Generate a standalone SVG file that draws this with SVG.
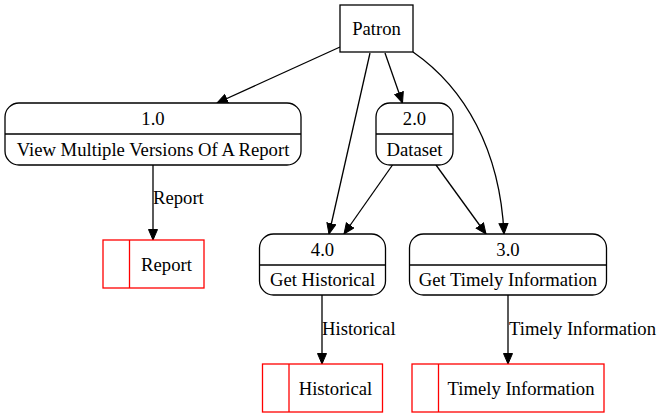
<svg xmlns="http://www.w3.org/2000/svg" width="657" height="419" viewBox="0 0 657 419">
<defs>
<marker id="arr" markerUnits="userSpaceOnUse" markerWidth="13" markerHeight="11" refX="11" refY="5" orient="auto">
<path d="M0.5,0.5 L11,5 L0.5,9.5 z" fill="#000" stroke="#000" stroke-width="1"/>
</marker>
</defs>
<style>
text{font-family:"Liberation Serif","Times New Roman",serif;font-size:18.67px;fill:#000}
.c{text-anchor:middle}
.n{fill:#fff;stroke:#000;stroke-width:1.3}
.s{fill:#fff;stroke:#f00;stroke-width:1.3}
.e{fill:none;stroke:#000;stroke-width:1.3;marker-end:url(#arr)}
</style>
<rect width="657" height="419" fill="#fff"/>
<g font-family="Liberation Serif, Times New Roman, serif" font-size="18.67">
<g id="connectors">
<path class="e" d="M340,47 L217,103"/>
<path class="e" d="M385,53 L402.5,103"/>
<path class="e" d="M370,53 L329,234"/>
<path class="e" d="M413,52 C465,88 500,150 504,234"/>
<path class="e" d="M392.5,165 L344,234"/>
<path class="e" d="M436,165 L486,234"/>
<path class="e" d="M153,165 L153,240"/>
<text x="153" y="204">Report</text>
<path class="e" d="M322,295 L322,364"/>
<text x="322" y="335">Historical</text>
<path class="e" d="M508,295 L508,364"/>
<text x="509" y="335">Timely Information</text>
</g>
<g id="patron">
<rect class="n" x="340" y="5" width="73" height="47"/>
<text class="c" x="376.5" y="35">Patron</text>
</g>
<g id="p1">
<rect class="n" x="5" y="103" width="296" height="62" rx="14"/>
<line x1="5" y1="134" x2="301" y2="134" stroke="#000" stroke-width="1.3"/>
<text class="c" x="153" y="125">1.0</text>
<text class="c" x="153" y="156">View Multiple Versions Of A Report</text>
</g>
<g id="p2">
<rect class="n" x="376" y="103" width="77" height="62" rx="14"/>
<line x1="376" y1="134" x2="453" y2="134" stroke="#000" stroke-width="1.3"/>
<text class="c" x="414.5" y="125">2.0</text>
<text class="c" x="414.5" y="156">Dataset</text>
</g>
<g id="p4">
<rect class="n" x="259.5" y="234" width="126" height="61" rx="14"/>
<line x1="259.5" y1="265" x2="385.5" y2="265" stroke="#000" stroke-width="1.3"/>
<text class="c" x="322.5" y="256">4.0</text>
<text class="c" x="322.5" y="286">Get Historical</text>
</g>
<g id="p3">
<rect class="n" x="409.5" y="234" width="197" height="61" rx="14"/>
<line x1="409.5" y1="265" x2="606.5" y2="265" stroke="#000" stroke-width="1.3"/>
<text class="c" x="508" y="256">3.0</text>
<text class="c" x="508" y="286">Get Timely Information</text>
</g>
<g id="s-report">
<rect class="s" x="103" y="240" width="101" height="48"/>
<line x1="129.5" y1="240" x2="129.5" y2="288" stroke="#f00" stroke-width="1.3"/>
<text class="c" x="166.5" y="271">Report</text>
</g>
<g id="s-historical">
<rect class="s" x="262.5" y="364" width="120" height="48"/>
<line x1="289" y1="364" x2="289" y2="412" stroke="#f00" stroke-width="1.3"/>
<text class="c" x="335.5" y="395">Historical</text>
</g>
<g id="s-timely">
<rect class="s" x="412" y="364" width="192" height="48"/>
<line x1="438.5" y1="364" x2="438.5" y2="412" stroke="#f00" stroke-width="1.3"/>
<text class="c" x="521" y="395">Timely Information</text>
</g>
</g>
</svg>
